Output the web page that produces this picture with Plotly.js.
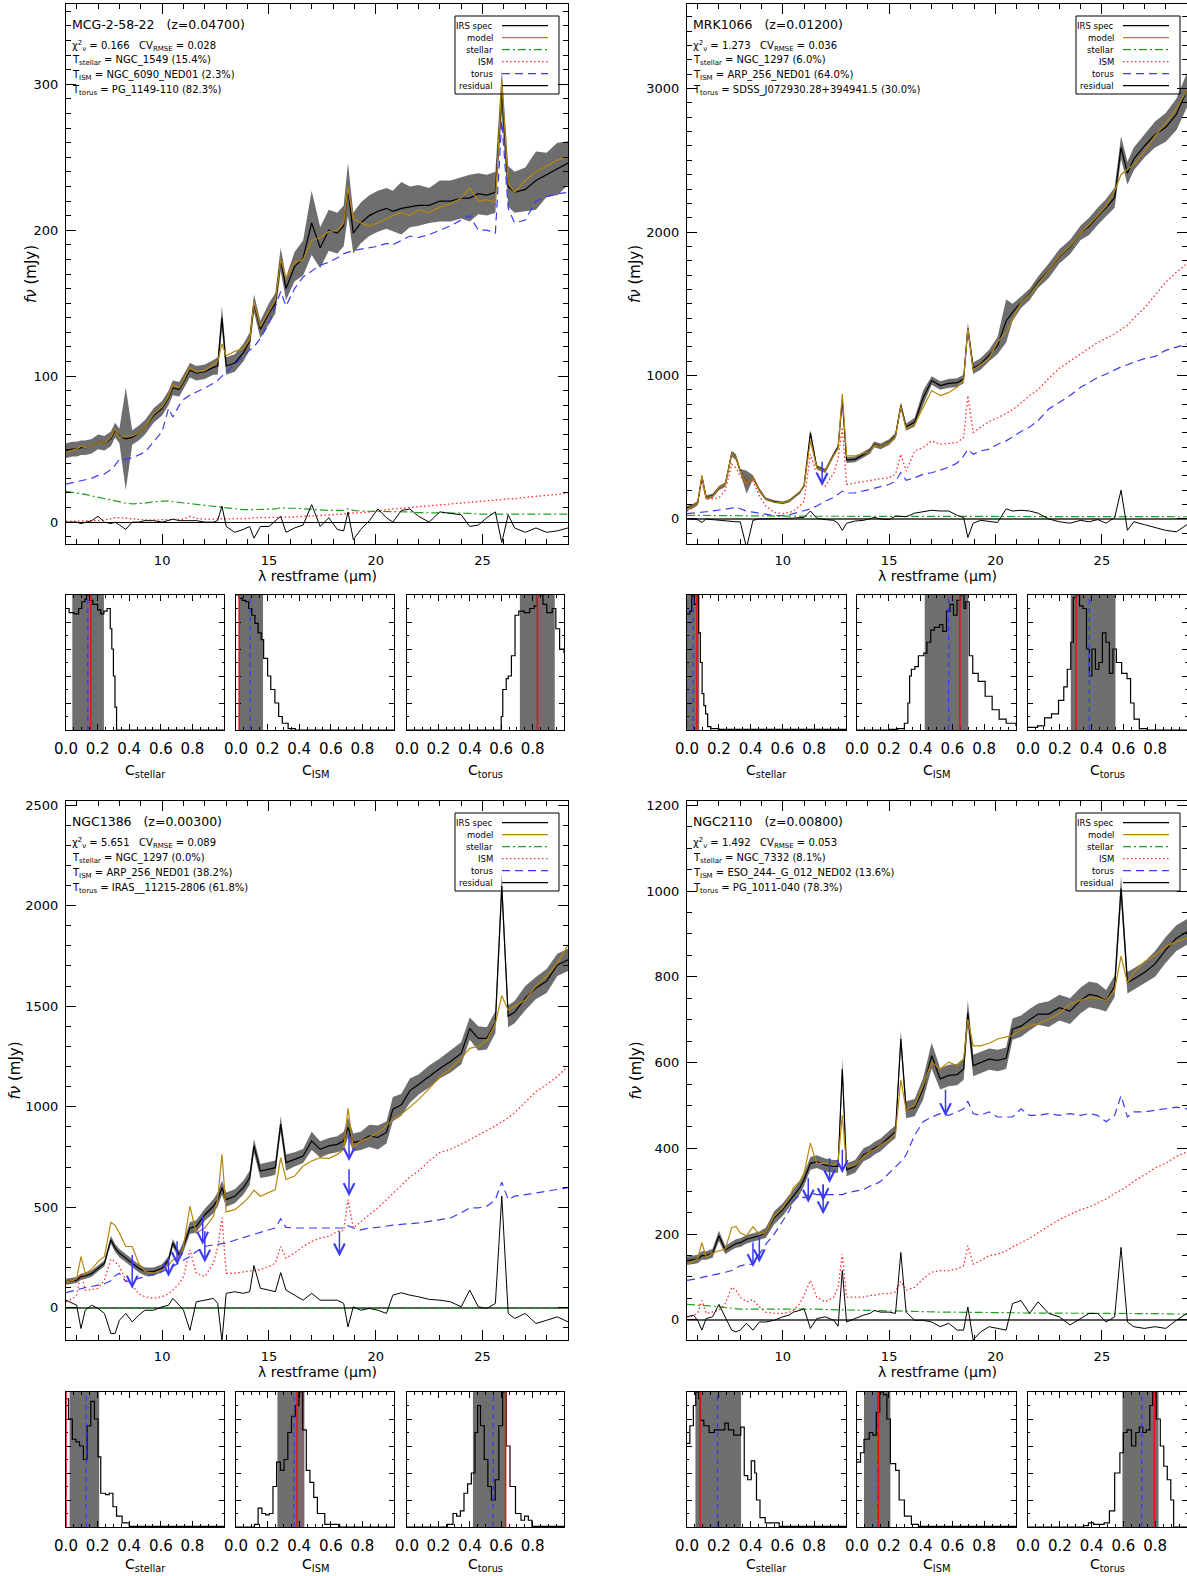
<!DOCTYPE html>
<html><head><meta charset="utf-8">
<script src="https://cdn.plot.ly/plotly-3.0.1.min.js"></script>
<style>html,body{margin:0;padding:0;background:#fff}</style>
</head><body><div id="chart" style="width:1187px;height:1576px"></div>
<script>
// ---------------- DATA ----------------
const WAVE = [5.5, 5.8, 6.0, 6.2, 6.4, 6.7, 7.0, 7.3, 7.6, 7.8,
  8.0, 8.3, 8.6, 8.9, 9.2, 9.6, 10.0, 10.3, 10.5, 10.8,
  11.0, 11.3, 11.6, 12.0, 12.4, 12.6, 12.8, 13.0, 13.4, 13.8,
  14.1, 14.3, 14.6, 15.0, 15.3, 15.55, 15.8, 16.2, 16.6, 17.0,
  17.4, 17.8, 18.2, 18.5, 18.7, 18.95, 19.3, 19.7, 20.1, 20.5,
  20.8, 21.2, 21.6, 22.0, 22.5, 23.0, 23.5, 24.0, 24.4, 24.8,
  25.2, 25.6, 25.9, 26.2, 26.5, 27.0, 27.5, 28.0, 28.5, 29.0];

// MCG-2-58-22
const MCG_SPEC = [49, 50, 50, 51, 51, 52, 55, 54, 57, 63,
  59, 57, 58, 61, 65, 73, 78, 85, 92, 91,
  96, 104, 102, 103, 106, 107, 140, 107, 109, 116,
  124, 150, 132, 143, 150, 180, 160, 175, 181, 205,
  188, 200, 198, 203, 228, 198, 205, 210, 213, 215,
  213, 215, 216, 217, 217, 220, 220, 222, 222, 225,
  224, 226, 295, 230, 226, 228, 234, 238, 242, 246];
const MCG_ERR = [5, 5, 5, 5, 5, 5, 5, 5, 5, 5,
  5, 35, 5, 5, 5, 5, 5, 5, 5, 5,
  5, 5, 5, 5, 5, 6, 8, 6, 6, 6,
  6, 6, 6, 7, 7, 8, 8, 10, 12, 22,
  14, 14, 14, 14, 18, 14, 14, 14, 14, 14,
  14, 18, 14, 14, 12, 14, 14, 14, 16, 14,
  14, 14, 15, 14, 14, 15, 20, 15, 18, 15];
const MCG_MODEL = [48, 49, 50, 52, 51, 52, 55, 54, 58, 64,
  58, 59, 59, 61, 65, 74, 79, 86, 94, 92,
  97, 106, 103, 104, 108, 110, 122, 114, 117, 119,
  125, 151, 134, 144, 152, 180, 167, 178, 180, 193,
  195, 199, 200, 205, 229, 208, 205, 203, 205, 208,
  210, 212, 210, 214, 212, 216, 218, 222, 229, 220,
  221, 219, 302, 232, 226, 234, 240, 244, 248, 250];
const MCG_STELLAR = [21, 20.5, 20, 19.5, 19, 18, 17, 16, 15, 14.5,
  14, 13, 12.5, 12.5, 13, 14, 14.5, 14.5, 14, 13.5,
  13, 12.5, 12, 11, 10.5, 10, 10, 9.5, 9, 8.5,
  8.5, 8.5, 8.5, 9, 9, 10, 9.5, 9.5, 9, 8.5,
  8.5, 8, 8, 8, 9, 8, 7.5, 7.5, 7, 7,
  7, 7, 7, 6.5, 6.5, 6.5, 6, 6, 6, 5.5,
  5.5, 5.5, 5.5, 5.5, 5.5, 5, 5, 5, 5, 5.5];
const MCG_ISM = [0.5, 0.5, 0.5, 1, 0.5, 1, 1, 1.5, 2.5, 3,
  3, 2.5, 2, 1.5, 1.5, 1.5, 1.5, 1.5, 1.5, 2,
  2, 4, 2.5, 2, 2, 2, 2.5, 2.5, 2.5, 2.5,
  2.5, 3, 3, 3, 3, 3.5, 3.5, 3.5, 4, 4,
  4.5, 5, 5, 5.5, 6, 6, 6.5, 7, 8, 8.5,
  9, 9.5, 10, 10.5, 11, 11.5, 12, 13, 13.5, 14,
  14.5, 15, 15.5, 16, 16, 17, 17.5, 18.5, 19, 20];
const MCG_TORUS = [26, 27, 28, 28.5, 29, 30, 32, 33, 36, 39,
  43, 43, 44, 46, 48, 55, 62, 78, 72, 80,
  84, 87, 89, 92, 95, 97, 100, 103, 108, 114,
  118, 120, 126, 136, 148, 158, 148, 160, 168, 172,
  176, 178, 181, 184, 185, 186, 187, 188, 189, 191,
  190, 193, 196, 195, 197, 200, 203, 207, 210, 200,
  200, 198, 275, 215, 205, 207, 220, 223, 225, 226];
const MCG_RESID = [0, 0, 0, -1, 0, 1, 4, 0, -1, 0,
  -2, -5, 0, 0, 1, 1, 0, 1, 2, 1,
  1, 1, 1, 0, 0, 1, 11, -3, -7, -5,
  -3, -11, -3, -3, 1, 4, -7, -4, -2, 12,
  -3, 3, -5, -6, 7, -12, -5, 1, 9, 3,
  0, 8, 9, 4, 0, 7, 6, 5, -3, -2,
  3, 7, -14, 5, -4, -7, -4, -7, -6, -4];

// MRK1066
const MRK_SPEC = [75, 90, 110, 295, 150, 160, 215, 240, 455, 430,
  335, 255, 290, 200, 140, 120, 112, 125, 150, 185,
  230, 600, 360, 335, 450, 500, 830, 410, 415, 450,
  475, 520, 505, 535, 580, 790, 640, 675, 845, 965,
  930, 945, 950, 975, 1330, 1050, 1080, 1140, 1210, 1380,
  1440, 1510, 1565, 1650, 1730, 1830, 1895, 1995, 2040, 2110,
  2170, 2240, 2590, 2410, 2510, 2600, 2680, 2730, 2820, 2990];
const MRK_ERR = [15, 15, 15, 20, 15, 15, 15, 15, 20, 20,
  15, 80, 15, 15, 10, 10, 10, 10, 10, 10,
  10, 20, 15, 15, 15, 15, 20, 20, 20, 20,
  20, 20, 20, 20, 20, 25, 25, 30, 50, 30,
  30, 30, 30, 30, 40, 40, 40, 40, 60, 150,
  60, 40, 40, 40, 50, 50, 50, 50, 60, 60,
  60, 70, 80, 80, 80, 80, 90, 100, 110, 120];
const MRK_MODEL = [70, 88, 110, 300, 148, 158, 217, 240, 455, 428,
  334, 252, 290, 200, 140, 118, 112, 125, 150, 189,
  229, 545, 357, 334, 445, 490, 870, 440, 440, 455,
  470, 515, 505, 530, 575, 783, 630, 660, 780, 895,
  860, 880, 920, 970, 1330, 1040, 1075, 1120, 1235, 1300,
  1390, 1510, 1560, 1640, 1730, 1835, 1900, 1995, 2050, 2115,
  2180, 2290, 2400, 2440, 2470, 2560, 2670, 2760, 2860, 2990];
const MRK_STELLAR = [25, 25, 24, 24, 24, 23, 23, 22, 22, 22,
  21, 21, 21, 20, 20, 20, 19, 19, 19, 19,
  18, 18, 18, 18, 17, 17, 17, 17, 17, 16,
  16, 16, 16, 16, 16, 16, 15, 15, 15, 15,
  15, 15, 15, 15, 15, 15, 15, 15, 15, 15,
  15, 15, 15, 15, 15, 15, 15, 15, 15, 15,
  15, 15, 15, 15, 15, 15, 15, 15, 15, 15];
const MRK_ISM = [54, 80, 120, 264, 135, 140, 147, 200, 381, 357,
  300, 240, 264, 160, 90, 45, 37, 45, 54, 90,
  124, 451, 311, 229, 320, 420, 638, 240, 250, 260,
  270, 276, 280, 287, 311, 451, 334, 474, 498, 544,
  521, 526, 533, 568, 860, 603, 640, 680, 705, 735,
  760, 810, 860, 900, 980, 1050, 1100, 1150, 1190, 1230,
  1260, 1290, 1320, 1350, 1400, 1470, 1560, 1650, 1720, 1780];
const MRK_TORUS = [37, 40, 42, 45, 50, 55, 61, 66, 75, 82,
  70, 54, 47, 40, 32, 23, 23, 28, 37, 50,
  58, 70, 90, 124, 150, 170, 194, 180, 182, 195,
  206, 215, 229, 240, 264, 322, 269, 287, 311, 322,
  340, 360, 390, 439, 486, 451, 474, 486, 521, 544,
  570, 610, 640, 685, 766, 813, 860, 918, 950, 985,
  1010, 1040, 1060, 1075, 1093, 1117, 1133, 1175, 1199, 1220];
const MRK_RESID = [0, -5, -5, -25, 0, -5, -10, -10, -15, -20,
  -20, -200, -10, 0, 0, 0, 0, 5, 5, 10,
  10, 55, 5, -5, -10, -30, -80, -30, -15, -10,
  0, 10, 0, -5, 20, 20, 15, 40, 50, 60,
  55, 55, 25, 10, -130, -30, -10, -20, -25, 70,
  55, 60, 55, 40, 0, -20, -30, -10, -20, -5,
  -30, 10, 200, -80, -20, -40, -60, -80, -90, -40];
const MRK_ARROW_LAM = [11.85];
const MRK_ARROW_FROM = [409];
const MRK_ARROW_TO = [229];

// NGC1386
const N1386_SPEC = [130, 135, 138, 155, 158, 170, 197, 222, 338, 297,
  272, 247, 222, 197, 180, 180, 197, 238, 322, 263,
  305, 397, 405, 463, 505, 538, 597, 538, 555, 597,
  647, 805, 680, 688, 697, 913, 722, 738, 755, 830,
  788, 805, 813, 830, 897, 822, 830, 855, 847, 872,
  988, 1010, 1080, 1110, 1150, 1190, 1225, 1265, 1388, 1340,
  1340, 1420, 2097, 1450, 1470, 1540, 1590, 1625, 1705, 1730];
const N1386_ERR = [15, 15, 15, 15, 15, 15, 15, 15, 20, 20,
  20, 20, 20, 20, 20, 20, 20, 20, 20, 20,
  25, 30, 30, 30, 35, 35, 35, 35, 35, 35,
  35, 35, 35, 35, 35, 40, 40, 35, 35, 45,
  40, 40, 40, 45, 50, 45, 45, 55, 60, 55,
  60, 55, 60, 50, 55, 50, 55, 55, 55, 60,
  55, 55, 60, 55, 55, 60, 55, 60, 55, 55];
const N1386_MODEL = [130, 135, 145, 255, 172, 190, 230, 255, 425, 410,
  372, 305, 305, 222, 180, 172, 188, 213, 238, 255,
  305, 505, 372, 397, 455, 538, 763, 477, 488, 522,
  555, 585, 555, 572, 588, 747, 638, 655, 705, 730,
  747, 742, 763, 788, 992, 797, 830, 847, 872, 905,
  938, 963, 1000, 1035, 1090, 1147, 1190, 1240, 1290, 1300,
  1330, 1413, 1552, 1480, 1500, 1530, 1600, 1650, 1713, 1805];
const N1386_STELLAR = [0, 0, 0, 0, 0, 0, 0, 0, 0, 0,
  0, 0, 0, 0, 0, 0, 0, 0, 0, 0,
  0, 0, 0, 0, 0, 0, 0, 0, 0, 0,
  0, 0, 0, 0, 0, 0, 0, 0, 0, 0,
  0, 0, 0, 0, 0, 0, 0, 0, 0, 0,
  0, 0, 0, 0, 0, 0, 0, 0, 0, 0,
  0, 0, 0, 0, 0, 0, 0, 0, 0, 0];
const N1386_ISM = [30, 45, 63, 172, 88, 90, 97, 138, 242, 230,
  205, 138, 113, 70, 55, 47, 55, 70, 88, 120,
  155, 288, 172, 155, 222, 300, 447, 172, 172, 178,
  182, 185, 190, 205, 222, 305, 247, 272, 305, 330,
  347, 355, 380, 385, 538, 397, 430, 463, 497, 538,
  570, 610, 650, 680, 730, 772, 788, 813, 835, 860,
  880, 905, 925, 945, 970, 1020, 1075, 1110, 1150, 1200];
const N1386_TORUS = [75, 82, 88, 95, 100, 105, 113, 120, 135, 160,
  172, 130, 138, 145, 155, 165, 180, 195, 205, 225,
  238, 255, 280, 305, 313, 316, 318, 322, 336, 350,
  360, 365, 375, 388, 397, 443, 400, 397, 397, 397,
  397, 397, 397, 397, 408, 397, 388, 397, 400, 408,
  411, 415, 418, 422, 430, 438, 447, 472, 497, 497,
  505, 538, 625, 538, 555, 563, 572, 580, 588, 597];
const N1386_RESID = [38, 22, 13, -103, -12, 13, -3, -28, -128, -128,
  -62, -28, -70, -37, -12, -12, 5, 13, 47, 13,
  -12, -112, 30, 38, 47, 22, -165, 72, 80, 72,
  80, 210, 97, 88, 80, 175, 88, 63, 38, 72,
  38, 38, 38, 22, -95, 5, -12, -3, -12, -28,
  63, 75, 63, 55, 42, 38, 30, 5, 88, 5,
  -3, 22, 555, -28, -53, -28, -78, -62, -45, -70];
const N1386_ARROW_LAM = [8.6, 10.3, 10.7, 11.9, 12.0, 18.75, 18.75, 18.3];
const N1386_ARROW_FROM = [270, 255, 338, 463, 388, 872, 697, 388];
const N1386_ARROW_TO = [95, 155, 213, 313, 225, 730, 555, 255];

// NGC2110
const N2110_SPEC = [138, 140, 142, 150, 150, 155, 196, 163, 173, 178,
  180, 188, 192, 196, 203, 238, 257, 277, 288, 308,
  327, 365, 369, 361, 358, 358, 585, 350, 358, 385,
  392, 400, 408, 427, 439, 655, 490, 495, 539, 616,
  562, 570, 572, 585, 716, 593, 600, 608, 605, 610,
  678, 685, 700, 713, 713, 728, 720, 745, 759, 755,
  744, 778, 1006, 786, 795, 810, 830, 863, 890, 905];
const N2110_ERR = [10, 10, 10, 10, 10, 10, 12, 10, 10, 10,
  10, 10, 10, 10, 12, 15, 15, 15, 15, 15,
  15, 15, 15, 15, 15, 15, 25, 15, 15, 15,
  15, 15, 15, 15, 15, 20, 20, 20, 25, 30,
  25, 25, 25, 25, 30, 25, 25, 25, 25, 25,
  25, 25, 25, 25, 30, 30, 30, 30, 30, 30,
  25, 25, 30, 25, 25, 25, 30, 30, 30, 30];
const N2110_MODEL = [130, 138, 142, 180, 146, 155, 161, 165, 215, 218,
  203, 196, 217, 200, 203, 242, 261, 284, 308, 323,
  342, 412, 365, 365, 361, 370, 477, 358, 361, 381,
  392, 396, 408, 419, 435, 560, 490, 500, 547, 601,
  585, 601, 593, 608, 701, 639, 639, 645, 655, 660,
  663, 678, 686, 690, 701, 715, 736, 745, 751, 751,
  744, 770, 848, 786, 810, 835, 850, 871, 882, 890];
const N2110_STELLAR = [36, 35.5, 35, 34, 33, 32, 30, 29, 27, 26,
  25, 25, 25, 25, 25, 25.5, 26, 26, 26, 26,
  26, 26, 25, 24, 23.5, 23, 22.5, 22, 22, 21.5,
  21, 21, 21, 21, 21, 20.5, 20.5, 20, 19.5, 18.5,
  18, 18, 18, 18, 18, 18, 18, 17.5, 17, 17,
  16.5, 16, 16, 16, 16, 15.5, 15.5, 15, 15, 15,
  15, 15, 15.5, 15, 15, 15, 14.5, 14, 13.5, 13];
const N2110_ISM = [7, 10, 15, 45, 15, 18, 22, 38, 76, 70,
  53, 42, 47, 30, 18, 15, 15, 18, 22, 38,
  57, 92, 53, 42, 53, 76, 153, 53, 53, 53,
  57, 57, 61, 61, 65, 90, 69, 76, 96, 111,
  115, 115, 119, 126, 173, 130, 138, 150, 153, 161,
  170, 180, 190, 203, 219, 234, 246, 257, 263, 272,
  282, 295, 302, 312, 323, 338, 354, 365, 381, 392];
const N2110_TORUS = [92, 94, 96, 99, 101, 104, 107, 111, 115, 120,
  126, 129, 130, 153, 176, 200, 230, 254, 277, 292,
  284, 296, 292, 292, 292, 292, 292, 296, 300, 304,
  312, 315, 323, 342, 358, 369, 385, 431, 462, 473,
  481, 477, 485, 492, 510, 481, 477, 485, 473, 473,
  473, 492, 477, 477, 481, 477, 481, 477, 481, 477,
  462, 477, 523, 473, 485, 485, 489, 492, 496, 492];
const N2110_RESID = [7, 11, -1, -24, 3, 7, 36, 7, -24, -28,
  -24, -8, -24, -5, -5, -1, 7, 11, 18, 22,
  26, -20, 3, 7, -1, -15, 115, -5, 3, 11,
  15, 22, 18, 18, 15, 157, 18, -1, -1, -5,
  -16, -8, -24, -24, 30, -47, -28, -16, -20, -24,
  38, 45, 15, 42, 15, 7, -12, 3, 15, 15,
  -5, 7, 169, -5, -16, -20, -16, -20, -1, 15];
const N2110_ARROW_LAM = [8.6, 8.9, 11.2, 11.9, 11.9, 12.2, 12.8, 17.65];
const N2110_ARROW_FROM = [184, 200, 334, 319, 319, 381, 400, 540];
const N2110_ARROW_TO = [123, 134, 273, 246, 277, 319, 342, 475];

// Histograms (coefficient posteriors)
const MCG_H_STELLAR_X = [0, 0.02, 0.05, 0.08, 0.1, 0.12, 0.13, 0.15, 0.17, 0.2, 0.22, 0.24, 0.26, 0.28, 0.29, 0.3, 0.31, 0.32, 1.0];
const MCG_H_STELLAR_Y = [0.9, 0.87, 0.86, 0.9, 0.95, 0.97, 1.0, 0.96, 0.93, 0.89, 0.86, 0.88, 0.9, 0.75, 0.6, 0.4, 0.17, 0, 0];
const MCG_H_ISM_X = [0, 0.02, 0.04, 0.06, 0.08, 0.1, 0.12, 0.14, 0.16, 0.175, 0.2, 0.22, 0.246, 0.27, 0.293, 0.33, 0.375, 1.0];
const MCG_H_ISM_Y = [1.0, 0.975, 0.96, 0.95, 0.9, 0.85, 0.79, 0.72, 0.67, 0.53, 0.4, 0.3, 0.2, 0.1, 0.05, 0.01, 0, 0];
const MCG_H_TORUS_X = [0, 0.6, 0.61, 0.632, 0.645, 0.665, 0.688, 0.712, 0.747, 0.782, 0.81, 0.83, 0.866, 0.89, 0.925, 0.948, 0.972, 1.0];
const MCG_H_TORUS_Y = [0, 0.1, 0.3, 0.38, 0.4, 0.55, 0.85, 0.88, 0.87, 0.9, 0.92, 1.0, 0.93, 0.87, 0.9, 0.75, 0.6, 0.57];
const MCG_H_LO = [0.04, 0.02, 0.719];
const MCG_H_HI = [0.24, 0.171, 0.941];
const MCG_H_BEST = [0.157, 0.02, 0.831];
const MCG_H_MED = [0.138, 0.089, 0.831];

const MRK_H_STELLAR_X = [0, 0.018, 0.03, 0.045, 0.062, 0.073, 0.084, 0.095, 0.106, 0.117, 0.13, 0.15, 0.2, 1.0];
const MRK_H_STELLAR_Y = [0.86, 0.88, 1.0, 0.93, 1.0, 0.72, 0.5, 0.27, 0.18, 0.12, 0.025, 0.01, 0.005, 0];
const MRK_H_ISM_X = [0, 0.2, 0.254, 0.298, 0.32, 0.331, 0.342, 0.364, 0.386, 0.42, 0.44, 0.464, 0.486, 0.519, 0.54, 0.563, 0.585, 0.607, 0.629, 0.65, 0.673, 0.684, 0.706, 0.728, 0.762, 0.806, 0.85, 0.894, 0.938, 1.0];
const MRK_H_ISM_Y = [0, 0.005, 0.01, 0.05, 0.2, 0.4, 0.45, 0.47, 0.55, 0.57, 0.65, 0.74, 0.76, 0.78, 0.73, 0.88, 0.93, 0.85, 0.96, 1.0, 0.9, 0.95, 0.55, 0.42, 0.36, 0.25, 0.15, 0.08, 0.05, 0.03];
const MRK_H_TORUS_X = [0, 0.06, 0.104, 0.148, 0.192, 0.225, 0.247, 0.269, 0.285, 0.302, 0.324, 0.346, 0.368, 0.386, 0.402, 0.424, 0.446, 0.468, 0.49, 0.512, 0.534, 0.556, 0.589, 0.623, 0.645, 0.667, 0.7, 0.75, 1.0];
const MRK_H_TORUS_Y = [0.02, 0.03, 0.09, 0.12, 0.22, 0.32, 0.45, 0.65, 0.98, 1.0, 0.92, 0.9, 0.6, 0.4, 0.6, 0.45, 0.5, 0.72, 0.65, 0.42, 0.6, 0.5, 0.42, 0.38, 0.2, 0.08, 0.01, 0, 0];
const MRK_H_LO = [0.0, 0.426, 0.269];
const MRK_H_HI = [0.077, 0.70, 0.55];
const MRK_H_BEST = [0.062, 0.647, 0.302];
const MRK_H_MED = [0.04, 0.576, 0.386];

const N1386_H_STELLAR_X = [0, 0.016, 0.04, 0.063, 0.086, 0.11, 0.133, 0.157, 0.18, 0.203, 0.22, 0.25, 0.273, 0.297, 0.32, 0.355, 0.4, 1.0];
const N1386_H_STELLAR_Y = [0.95, 0.8, 0.65, 0.63, 0.6, 0.5, 0.75, 0.93, 0.8, 0.52, 0.25, 0.24, 0.25, 0.15, 0.08, 0.03, 0.005, 0];
const N1386_H_ISM_X = [0, 0.117, 0.14, 0.164, 0.187, 0.21, 0.234, 0.257, 0.281, 0.304, 0.328, 0.351, 0.375, 0.398, 0.422, 0.445, 0.468, 0.492, 0.515, 0.562, 0.656, 1.0];
const N1386_H_ISM_Y = [0, 0.02, 0.14, 0.1, 0.09, 0.1, 0.3, 0.48, 0.42, 0.5, 0.7, 0.82, 0.9, 1.0, 0.72, 0.42, 0.33, 0.22, 0.1, 0.02, 0, 0];
const N1386_H_TORUS_X = [0, 0.258, 0.293, 0.316, 0.34, 0.363, 0.386, 0.41, 0.433, 0.45, 0.468, 0.492, 0.515, 0.538, 0.562, 0.585, 0.609, 0.632, 0.656, 0.691, 0.726, 0.749, 0.773, 0.796, 1.0];
const N1386_H_TORUS_Y = [0, 0.02, 0.1, 0.08, 0.12, 0.25, 0.32, 0.4, 0.7, 0.9, 0.75, 0.5, 0.3, 0.2, 0.35, 0.75, 1.0, 0.6, 0.3, 0.1, 0.05, 0.08, 0.05, 0.005, 0];
const N1386_H_LO = [0.023, 0.262, 0.42];
const N1386_H_HI = [0.21, 0.433, 0.628];
const N1386_H_BEST = [0.0, 0.386, 0.628];
const N1386_H_MED = [0.128, 0.368, 0.55];

const N2110_H_STELLAR_X = [0, 0.018, 0.04, 0.055, 0.073, 0.084, 0.106, 0.139, 0.172, 0.205, 0.238, 0.26, 0.294, 0.338, 0.36, 0.382, 0.404, 0.426, 0.437, 0.459, 0.492, 0.58, 1.0];
const N2110_H_STELLAR_Y = [0.62, 0.75, 0.9, 1.0, 0.95, 0.79, 0.75, 0.7, 0.72, 0.72, 0.77, 0.72, 0.68, 0.74, 0.38, 0.35, 0.49, 0.4, 0.2, 0.07, 0.03, 0.005, 0];
const N2110_H_ISM_X = [0, 0.022, 0.044, 0.077, 0.1, 0.121, 0.143, 0.166, 0.188, 0.21, 0.243, 0.265, 0.298, 0.342, 0.386, 1.0];
const N2110_H_ISM_Y = [0.48, 0.55, 0.65, 0.7, 0.68, 0.85, 1.0, 0.98, 0.8, 0.47, 0.42, 0.2, 0.08, 0.02, 0.005, 0];
const N2110_H_TORUS_X = [0, 0.35, 0.38, 0.413, 0.479, 0.512, 0.545, 0.578, 0.6, 0.623, 0.651, 0.678, 0.7, 0.722, 0.744, 0.766, 0.784, 0.806, 0.832, 0.854, 0.876, 0.898, 0.916, 1.0];
const N2110_H_TORUS_Y = [0, 0.01, 0.03, 0.02, 0.03, 0.12, 0.4, 0.55, 0.7, 0.72, 0.6, 0.7, 0.74, 0.7, 0.72, 0.9, 1.0, 0.8, 0.6, 0.45, 0.35, 0.2, 0, 0];
const N2110_H_LO = [0.053, 0.044, 0.594];
const N2110_H_HI = [0.34, 0.21, 0.821];
const N2110_H_BEST = [0.082, 0.135, 0.795];
const N2110_H_MED = [0.192, 0.13, 0.715];

// Texts
const NAMES = ['MCG-2-58-22\u00a0\u00a0\u00a0(z=0.04700)', 'MRK1066\u00a0\u00a0\u00a0(z=0.01200)', 'NGC1386\u00a0\u00a0\u00a0(z=0.00300)', 'NGC2110\u00a0\u00a0\u00a0(z=0.00800)'];
const CHI2 = ['0.166', '1.273', '5.651', '1.492'];
const CVRMSE = ['0.028', '0.036', '0.089', '0.053'];
const T_STELLAR = ['NGC_1549 (15.4%)', 'NGC_1297 (6.0%)', 'NGC_1297 (0.0%)', 'NGC_7332 (8.1%)'];
const T_ISM = ['NGC_6090_NED01 (2.3%)', 'ARP_256_NED01 (64.0%)', 'ARP_256_NED01 (38.2%)', 'ESO_244-_G_012_NED02 (13.6%)'];
const T_TORUS = ['PG_1149-110 (82.3%)', 'SDSS_J072930.28+394941.5 (30.0%)', 'IRAS__11215-2806 (61.8%)', 'PG_1011-040 (78.3%)'];
const LEGEND_LABELS = ['IRS spec', 'model', 'stellar', 'ISM', 'torus', 'residual'];
const HIST_TICKS = [0, 0.2, 0.4, 0.6, 0.8];
const HIST_TICKTEXT = ['0.0', '0.2', '0.4', '0.6', '0.8'];
const HIST_TITLES = ['C<sub>stellar</sub>', 'C<sub>ISM</sub>', 'C<sub>torus</sub>'];
const X_TITLE = '\u03bb restframe (\u03bcm)';
const Y_TITLE = '<i>f\u03bd</i> (mJy)';

// ---------------- LAYOUT / STYLE ----------------
const W = 1187, H = 1576;
const fx = p => p / W, fy = p => 1 - p / H;
const FONT = '"DejaVu Sans", "Liberation Sans", sans-serif';
const COL = {band: '#6e6e6e', spec: '#000000', model: '#b8860b', stellar: '#1fa01f', ism: '#ff2a2a', torus: '#3a3af5', resid: '#000000', best: '#e8141a'};
const DASH = {stellar: '8px,3px,2px,3px', ism: '1.5px,2.5px', torus: '8px,5px'};

const MAIN_BOX = [[66, 568, 4, 544], [687, 1187, 4, 544], [66, 568, 801, 1340], [687, 1187, 801, 1340]];
const HIST_XPX = [[[66, 224], [236, 394], [407, 564]], [[687, 846], [857, 1016], [1028, 1187]]];
const HIST_YPX = [[595, 730], [1392, 1527]];
const HIST_TITLE_DY = [41, 38];

const PANELS = [
  {spec: MCG_SPEC, err: MCG_ERR, model: MCG_MODEL, stellar: MCG_STELLAR, ism: MCG_ISM, torus: MCG_TORUS, resid: MCG_RESID,
   yr: [-15, 355], dy: 100, my: 10, zc: '#000000', zw: 1.2, ytx: 35, arrows: null,
   hx: [MCG_H_STELLAR_X, MCG_H_ISM_X, MCG_H_TORUS_X], hy: [MCG_H_STELLAR_Y, MCG_H_ISM_Y, MCG_H_TORUS_Y],
   lo: MCG_H_LO, hi: MCG_H_HI, best: MCG_H_BEST, med: MCG_H_MED},
  {spec: MRK_SPEC, err: MRK_ERR, model: MRK_MODEL, stellar: MRK_STELLAR, ism: MRK_ISM, torus: MRK_TORUS, resid: MRK_RESID,
   yr: [-175, 3590], dy: 1000, my: 100, zc: '#5a5a5a', zw: 2.2, ytx: 52, arrows: [MRK_ARROW_LAM, MRK_ARROW_FROM, MRK_ARROW_TO],
   hx: [MRK_H_STELLAR_X, MRK_H_ISM_X, MRK_H_TORUS_X], hy: [MRK_H_STELLAR_Y, MRK_H_ISM_Y, MRK_H_TORUS_Y],
   lo: MRK_H_LO, hi: MRK_H_HI, best: MRK_H_BEST, med: MRK_H_MED},
  {spec: N1386_SPEC, err: N1386_ERR, model: N1386_MODEL, stellar: N1386_STELLAR, ism: N1386_ISM, torus: N1386_TORUS, resid: N1386_RESID,
   yr: [-160, 2520], dy: 500, my: 100, zc: '#5a5a5a', zw: 2.2, ytx: 52, arrows: [N1386_ARROW_LAM, N1386_ARROW_FROM, N1386_ARROW_TO],
   hx: [N1386_H_STELLAR_X, N1386_H_ISM_X, N1386_H_TORUS_X], hy: [N1386_H_STELLAR_Y, N1386_H_ISM_Y, N1386_H_TORUS_Y],
   lo: N1386_H_LO, hi: N1386_H_HI, best: N1386_H_BEST, med: N1386_H_MED},
  {spec: N2110_SPEC, err: N2110_ERR, model: N2110_MODEL, stellar: N2110_STELLAR, ism: N2110_ISM, torus: N2110_TORUS, resid: N2110_RESID,
   yr: [-47, 1210], dy: 200, my: 50, zc: '#5a5a5a', zw: 2.2, ytx: 52, arrows: [N2110_ARROW_LAM, N2110_ARROW_FROM, N2110_ARROW_TO],
   hx: [N2110_H_STELLAR_X, N2110_H_ISM_X, N2110_H_TORUS_X], hy: [N2110_H_STELLAR_Y, N2110_H_ISM_Y, N2110_H_TORUS_Y],
   lo: N2110_H_LO, hi: N2110_H_HI, best: N2110_H_BEST, med: N2110_H_MED}
];

const sfx = n => (n === 1 ? '' : String(n));
const traces = [];
const layout = {
  width: W, height: H, margin: {l: 0, r: 0, t: 0, b: 0},
  paper_bgcolor: '#ffffff', plot_bgcolor: '#ffffff', showlegend: false,
  font: {family: FONT, color: '#000000', size: 12},
  shapes: [], annotations: []
};
const baseAxis = {
  showline: true, linecolor: '#000000', linewidth: 1, mirror: 'ticks',
  ticks: 'inside', tickcolor: '#000000', tickwidth: 1, showgrid: false, zeroline: false, fixedrange: true
};
const txt = (text, xpx, ypx, size, opts) => Object.assign({
  text: text, x: fx(xpx), y: fy(ypx), xref: 'paper', yref: 'paper', showarrow: false,
  xanchor: 'left', yanchor: 'middle', font: {family: FONT, size: size, color: '#000000'}
}, opts || {});

PANELS.forEach((P, i) => {
  const n = i + 1, s = sfx(n);
  const [x0, x1, y0, y1] = MAIN_BOX[i];
  layout['xaxis' + s] = Object.assign({}, baseAxis, {
    domain: [fx(x0), fx(x1)], anchor: 'y' + s, range: [5.5, 29], tick0: 0, dtick: 5, ticklen: 10,
    minor: {dtick: 1, ticklen: 5, ticks: 'inside', tickcolor: '#000000'},
    tickfont: {family: FONT, size: 13}, ticklabelstandoff: 4
  });
  layout['yaxis' + s] = Object.assign({}, baseAxis, {
    domain: [fy(y1), fy(y0)], anchor: 'x' + s, range: P.yr, tick0: 0, dtick: P.dy, ticklen: 10,
    minor: {dtick: P.my, ticklen: 5, ticks: 'inside', tickcolor: '#000000'},
    zeroline: true, zerolinecolor: P.zc, zerolinewidth: P.zw,
    tickfont: {family: FONT, size: 13}, ticklabelstandoff: 4
  });
  const xa = 'x' + s, ya = 'y' + s;
  const up = P.spec.map((v, k) => v + P.err[k]);
  const dn = P.spec.map((v, k) => v - P.err[k]);
  traces.push({type: 'scatter', mode: 'lines', xaxis: xa, yaxis: ya, x: WAVE.concat(WAVE.slice().reverse()),
    y: up.concat(dn.slice().reverse()), fill: 'toself', fillcolor: COL.band, line: {width: 0}, hoverinfo: 'skip'});
  traces.push({type: 'scatter', mode: 'lines', xaxis: xa, yaxis: ya, x: WAVE, y: P.torus, line: {color: COL.torus, width: 1.2, dash: DASH.torus}});
  traces.push({type: 'scatter', mode: 'lines', xaxis: xa, yaxis: ya, x: WAVE, y: P.ism, line: {color: COL.ism, width: 1.3, dash: DASH.ism}});
  traces.push({type: 'scatter', mode: 'lines', xaxis: xa, yaxis: ya, x: WAVE, y: P.stellar, line: {color: COL.stellar, width: 1.2, dash: DASH.stellar}});
  traces.push({type: 'scatter', mode: 'lines', xaxis: xa, yaxis: ya, x: WAVE, y: P.resid, line: {color: COL.resid, width: 1}});
  traces.push({type: 'scatter', mode: 'lines', xaxis: xa, yaxis: ya, x: WAVE, y: P.spec, line: {color: COL.spec, width: 1.2}});
  traces.push({type: 'scatter', mode: 'lines', xaxis: xa, yaxis: ya, x: WAVE, y: P.model, line: {color: COL.model, width: 1.2}});

  // axis titles
  layout.annotations.push(txt(X_TITLE, (x0 + x1) / 2, y1 + 32, 14, {xanchor: 'center'}));
  layout.annotations.push(txt(Y_TITLE, x0 - P.ytx, (y0 + y1) / 2, 15, {xanchor: 'center', textangle: -90}));

  // info text
  layout.annotations.push(txt(NAMES[i], x0 + 4, y0 + 20, 12.5));
  layout.annotations.push(txt('\u03c7<sup>2</sup><sub>\u03bd</sub> = ' + CHI2[i] + '\u00a0\u00a0\u00a0CV<sub>RMSE</sub> = ' + CVRMSE[i], x0 + 4, y0 + 42, 10));
  layout.annotations.push(txt('T<sub>stellar</sub> = ' + T_STELLAR[i], x0 + 4, y0 + 57, 10));
  layout.annotations.push(txt('T<sub>ISM</sub> = ' + T_ISM[i], x0 + 4, y0 + 72, 10));
  layout.annotations.push(txt('T<sub>torus</sub> = ' + T_TORUS[i], x0 + 4, y0 + 87, 10));

  // legend box
  const lx0 = (i % 2 === 0 ? x1 : x1 + 2) - 113, ly0 = y0 + 12;
  layout.shapes.push({type: 'rect', xref: 'paper', yref: 'paper', x0: fx(lx0), x1: fx(lx0 + 104), y0: fy(ly0 + 78), y1: fy(ly0),
    line: {color: '#000000', width: 1}, fillcolor: 'rgba(0,0,0,0)', layer: 'above'});
  const lstyles = [[COL.spec, 'solid'], [COL.model, 'solid'], [COL.stellar, DASH.stellar], [COL.ism, DASH.ism], [COL.torus, DASH.torus], [COL.resid, 'solid']];
  LEGEND_LABELS.forEach((lab, k) => {
    const ry = ly0 + 9.7 + 12 * k;
    layout.annotations.push(txt(lab, lx0 + 40, ry, 8.5, {xanchor: 'right'}));
    layout.shapes.push({type: 'line', xref: 'paper', yref: 'paper', x0: fx(lx0 + 47), x1: fx(lx0 + 93), y0: fy(ry), y1: fy(ry),
      line: {color: lstyles[k][0], width: 1.2, dash: lstyles[k][1]}, layer: 'above'});
  });

  // upper-limit arrows
  if (P.arrows) {
    P.arrows[0].forEach((lam, k) => {
      layout.annotations.push({x: lam, y: P.arrows[2][k], ax: lam, ay: P.arrows[1][k], xref: xa, yref: ya, axref: xa, ayref: ya,
        text: '', showarrow: true, arrowhead: 5, arrowsize: 1.4, arrowwidth: 1.5, arrowcolor: COL.torus, standoff: 0, startstandoff: 0});
    });
  }

  // histograms
  const col = i % 2, row = Math.floor(i / 2);
  for (let k = 0; k < 3; k++) {
    const m = 5 + i * 3 + k, hs = sfx(m);
    const [hx0, hx1] = HIST_XPX[col][k];
    const [hy0, hy1] = HIST_YPX[row];
    layout['xaxis' + hs] = Object.assign({}, baseAxis, {
      domain: [fx(hx0), fx(hx1)], anchor: 'y' + hs, range: [0, 1], tickmode: 'array', tickvals: HIST_TICKS, ticktext: HIST_TICKTEXT,
      ticklen: 6, minor: {tickmode: 'linear', tick0: 0, dtick: 0.05, ticklen: 3, ticks: 'inside', tickcolor: '#000000'},
      tickfont: {family: FONT, size: 15}, ticklabelstandoff: 5
    });
    layout['yaxis' + hs] = Object.assign({}, baseAxis, {
      domain: [fy(hy1), fy(hy0)], anchor: 'x' + hs, range: [0, 1.0], showticklabels: false, dtick: 0.2, ticklen: 5,
      minor: {dtick: 0.1, ticklen: 2, ticks: 'inside', tickcolor: '#000000'}
    });
    traces.push({type: 'scatter', mode: 'lines', xaxis: 'x' + hs, yaxis: 'y' + hs, x: P.hx[k], y: P.hy[k],
      line: {color: '#000000', width: 1.2, shape: 'hv'}});
    layout.shapes.push({type: 'rect', xref: 'x' + hs, yref: 'y' + hs + ' domain', x0: P.lo[k], x1: P.hi[k], y0: 0, y1: 1,
      fillcolor: COL.band, line: {width: 0}, layer: 'below'});
    layout.shapes.push({type: 'line', xref: 'x' + hs, yref: 'y' + hs + ' domain', x0: P.med[k], x1: P.med[k], y0: 0, y1: 1,
      line: {color: COL.torus, width: 1.3, dash: '5px,4px'}, layer: 'above'});
    layout.shapes.push({type: 'line', xref: 'x' + hs, yref: 'y' + hs + ' domain', x0: P.best[k], x1: P.best[k], y0: 0, y1: 1,
      line: {color: COL.best, width: 1.6}, layer: 'above'});
    layout.annotations.push(txt(HIST_TITLES[k], (hx0 + hx1) / 2, hy1 + HIST_TITLE_DY[row], 14, {xanchor: 'center', borderpad: 0}));
  }
});

Plotly.newPlot('chart', traces, layout, {displayModeBar: false, staticPlot: true});
</script>
</body></html>
